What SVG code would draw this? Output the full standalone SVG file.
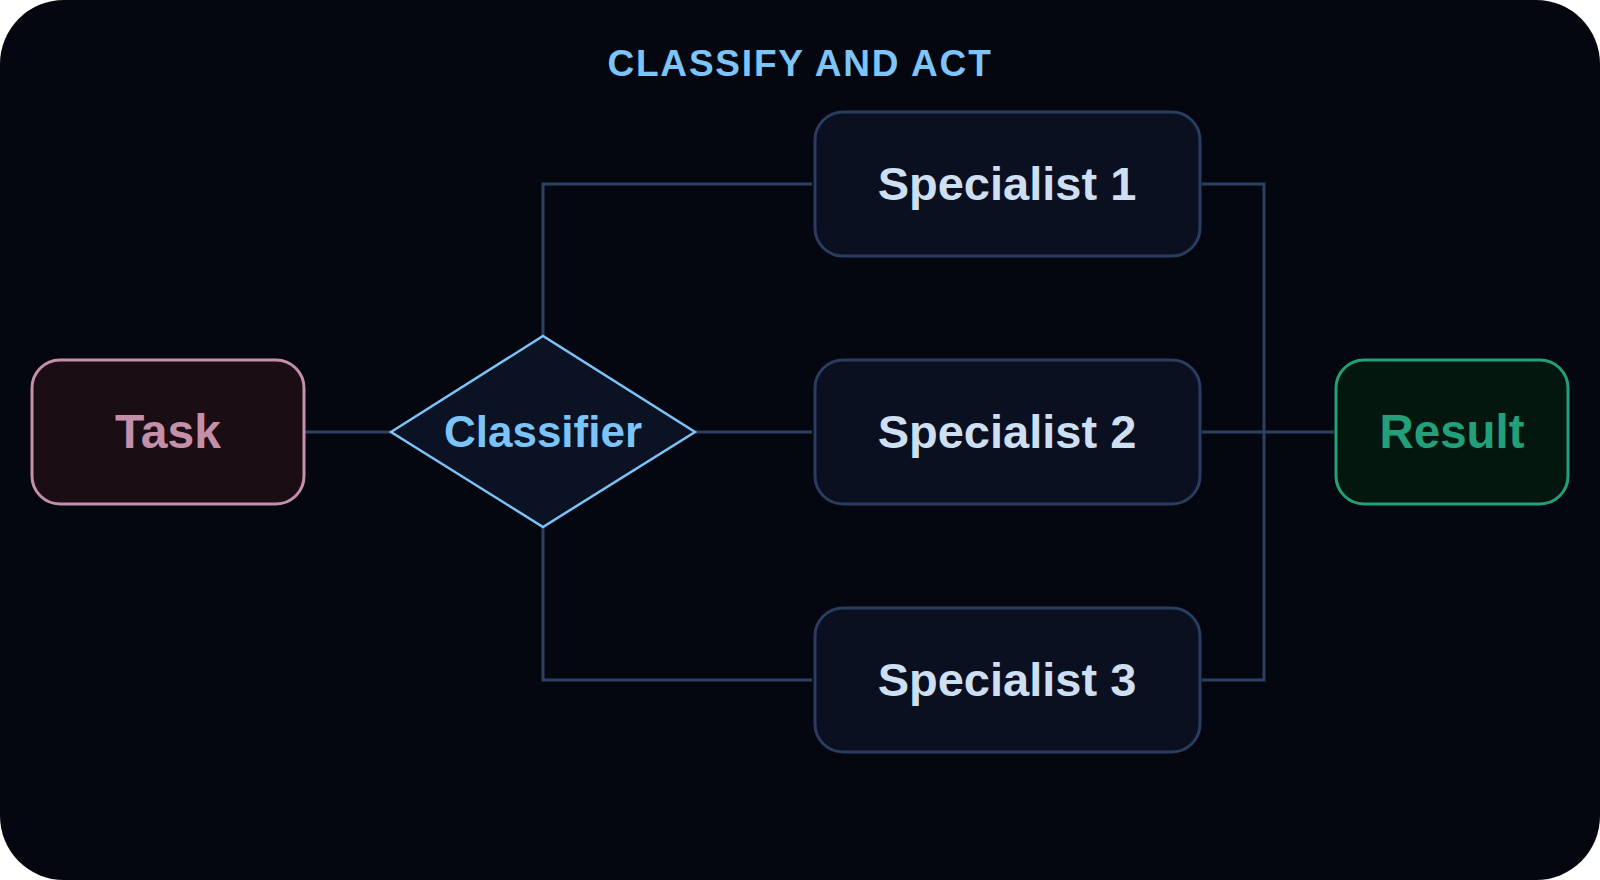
<svg xmlns="http://www.w3.org/2000/svg" width="1600" height="880" viewBox="0 0 1600 880">
<style>
.lbl{font-family:"Liberation Sans",Arial,sans-serif;font-weight:bold;text-anchor:middle}
.conn{fill:none;stroke:#2e4060;stroke-width:3}
.spec rect{fill:#0b1020;stroke:#2b3d5e;stroke-width:3}
.spec text{fill:#cddff1;font-size:47px}
</style>
<rect x="0" y="0" width="1600" height="880" rx="64" fill="#04070f"/>
<text class="lbl" x="800" y="76" font-size="37" letter-spacing="1.8" fill="#7dc4f8">CLASSIFY AND ACT</text>
<g id="connectors">
<path class="conn" d="M304 432 H391"/>
<path class="conn" d="M695 432 H812"/>
<path class="conn" d="M543 336 V184 H812"/>
<path class="conn" d="M543 527 V680 H812"/>
<path class="conn" d="M1202 184 H1264 V680 H1202"/>
<path class="conn" d="M1202 432 H1334"/>
</g>
<g id="task">
<rect x="32" y="360" width="272" height="144" rx="28" fill="#1b0d14" stroke="#c48fa9" stroke-width="3"/>
<text class="lbl" x="168" y="448" font-size="48" fill="#c48fa9">Task</text>
</g>
<g id="classifier">
<polygon points="391,432 543,336 695,432 543,527" fill="#0b1224" stroke="#7cc4f8" stroke-width="2.5"/>
<text class="lbl" x="543" y="447" font-size="44" fill="#7cc4f8">Classifier</text>
</g>
<g id="specialist1" class="spec">
<rect x="815" y="112" width="385" height="144" rx="28"/>
<text class="lbl" x="1007" y="200">Specialist 1</text>
</g>
<g id="specialist2" class="spec">
<rect x="815" y="360" width="385" height="144" rx="28"/>
<text class="lbl" x="1007" y="448">Specialist 2</text>
</g>
<g id="specialist3" class="spec">
<rect x="815" y="608" width="385" height="144" rx="28"/>
<text class="lbl" x="1007" y="696">Specialist 3</text>
</g>
<g id="result">
<rect x="1336" y="360" width="232" height="144" rx="28" fill="#04170f" stroke="#23a079" stroke-width="3"/>
<text class="lbl" x="1452" y="448" font-size="47.5" fill="#23a079">Result</text>
</g>
</svg>
